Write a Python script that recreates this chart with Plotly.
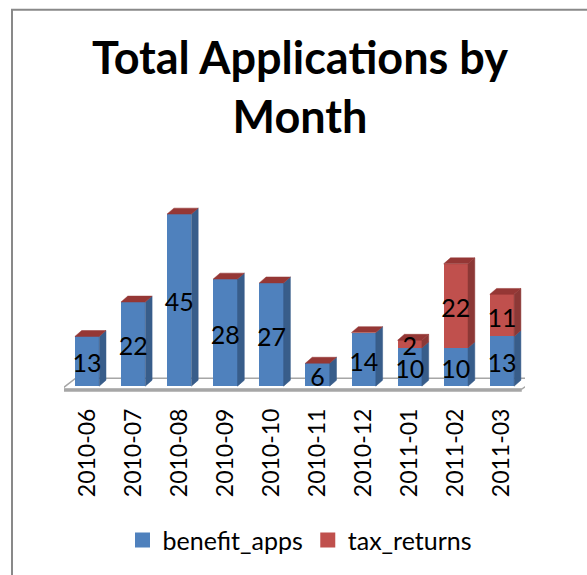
import plotly.graph_objects as go

months = ["2010-06", "2010-07", "2010-08", "2010-09", "2010-10",
          "2010-11", "2010-12", "2011-01", "2011-02", "2011-03"]
benefit_apps = [13, 22, 45, 28, 27, 6, 14, 10, 10, 13]
tax_returns = [0, 0, 0, 0, 0, 0, 0, 2, 22, 11]

# ---- style / geometry constants ----
W, H = 587, 575
ML, MR, MT, MB = 64, 62, 150, 175
PW, PH = W - ML - MR, H - MT - MB
Y0_PX = 389            # pixel row of value 0
PX_PER_UNIT = 3.87
YMAX = (Y0_PX - MT) / PX_PER_UNIT
YMIN = -(H - MB - Y0_PX) / PX_PER_UNIT
XMIN, XMAX = -0.5, len(months) - 0.5
PX_PER_CAT = PW / (XMAX - XMIN)
BAR_W = 0.527
DX = 6.8 / PX_PER_CAT      # depth in x units
DY = 6.0 / PX_PER_UNIT     # depth in y units
LABEL_SHIFT = 5.0 / PX_PER_UNIT

BLUE, BLUE_SIDE = "#4F81BD", "#385D8A"
RED, RED_SIDE, RED_TOP = "#C0504D", "#8C3836", "#953735"
FONT = "Lato"

fig = go.Figure()

xs = list(range(len(months)))
fig.add_trace(go.Bar(x=xs, y=benefit_apps, name="benefit_apps", marker=dict(color=BLUE, line=dict(width=0)),
                     width=BAR_W, hoverinfo="x+y", showlegend=False))
fig.add_trace(go.Bar(x=xs, y=tax_returns, name="tax_returns", marker=dict(color=RED, line=dict(width=0)),
                     width=BAR_W, hoverinfo="x+y", showlegend=False))


def side_poly(bases, tops):
    px, py = [], []
    for i, (b, t) in enumerate(zip(bases, tops)):
        if t <= b:
            continue
        r = i + BAR_W / 2
        px += [r, r + DX, r + DX, r, r, None]
        py += [b, b + DY, t + DY, t, b, None]
    return px, py


def top_poly(tops):
    px, py = [], []
    for i, t in enumerate(tops):
        l, r = i - BAR_W / 2, i + BAR_W / 2
        px += [l, r, r + DX, l + DX, l, None]
        py += [t, t, t + DY, t + DY, t, None]
    return px, py


totals = [b + t for b, t in zip(benefit_apps, tax_returns)]
for (bx, by), col in [(side_poly([0] * len(benefit_apps), benefit_apps), BLUE_SIDE),
                      (side_poly(benefit_apps, totals), RED_SIDE),
                      (top_poly(totals), RED_TOP)]:
    fig.add_trace(go.Scatter(x=bx, y=by, mode="lines", fill="toself", fillcolor=col,
                             line=dict(width=0.5, color=col), showlegend=False, hoverinfo="skip"))

# data labels
lx, ly, lt = [], [], []
for i, (b, t) in enumerate(zip(benefit_apps, tax_returns)):
    if b > 0:
        lx.append(i); ly.append(b / 2 - LABEL_SHIFT); lt.append(str(b))
    if t > 0:
        lx.append(i); ly.append(b + t / 2 - LABEL_SHIFT); lt.append(str(t))
fig.add_trace(go.Scatter(x=lx, y=ly, text=lt, mode="text", textposition="middle center",
                         textfont=dict(family=FONT, size=25, color="black"),
                         showlegend=False, hoverinfo="skip"))

# legend entries (square swatches)
for name, col in [("benefit_apps", BLUE), ("tax_returns", RED)]:
    fig.add_trace(go.Scatter(x=[None], y=[None], mode="markers", name=name,
                             marker=dict(symbol="square", size=15, color=col), hoverinfo="skip"))

# floor (3D wall floor)
fy_front = -3.0 / PX_PER_UNIT
fy_back = 8.0 / PX_PER_UNIT
fl_front, fr_front = XMIN - 0.05, XMAX - 0.07
fl_back, fr_back = fl_front + 14 / PX_PER_CAT, fr_front + 16 / PX_PER_CAT
floor_path = (f"M {fl_front},{fy_front} L {fr_front},{fy_front} L {fr_back},{fy_back} "
              f"L {fl_back},{fy_back} Z")
fig.add_shape(type="path", path=floor_path, xref="x", yref="y", layer="below",
              fillcolor="white", line=dict(color="#A6A6A6", width=1.5))
fig.add_shape(type="line", x0=fl_front, x1=fr_front, y0=fy_front - 0.3, y1=fy_front - 0.3,
              xref="x", yref="y", layer="below", line=dict(color="#A6A6A6", width=3))

# outer chart border
fig.add_shape(type="rect", xref="paper", yref="paper",
              x0=(12 - ML) / PW, x1=(W + 20 - ML) / PW,
              y0=(H - MB - (H + 20)) / PH, y1=(H - MB - 8) / PH,
              line=dict(color="#898989", width=2), fillcolor="rgba(0,0,0,0)", layer="below")

fig.update_layout(
    width=W, height=H, margin=dict(l=ML, r=MR, t=MT, b=MB),
    barmode="stack", bargap=0,
    paper_bgcolor="white", plot_bgcolor="rgba(0,0,0,0)",
    font=dict(family=FONT, color="black"),
    title=dict(text="<b>Total Applications by<br>Month</b>", x=300 / W, xanchor="center",
               y=1 - 74 / H, yanchor="top", font=dict(family=FONT, size=45, color="black")),
    xaxis=dict(range=[XMIN, XMAX], tickvals=xs, ticktext=months, tickangle=-90,
               showgrid=False, zeroline=False, showline=False, ticks="",
               ticklabelstandoff=6,
               tickfont=dict(family=FONT, size=23, color="black")),
    yaxis=dict(range=[YMIN, YMAX], visible=False),
    legend=dict(orientation="h", x=(300 - ML) / PW, xanchor="center", y=(H - MB - 545) / PH,
                yanchor="middle", font=dict(family=FONT, size=25, color="black"),
                itemsizing="trace", traceorder="normal"),
    showlegend=True,
)

fig.write_html("out.html")
